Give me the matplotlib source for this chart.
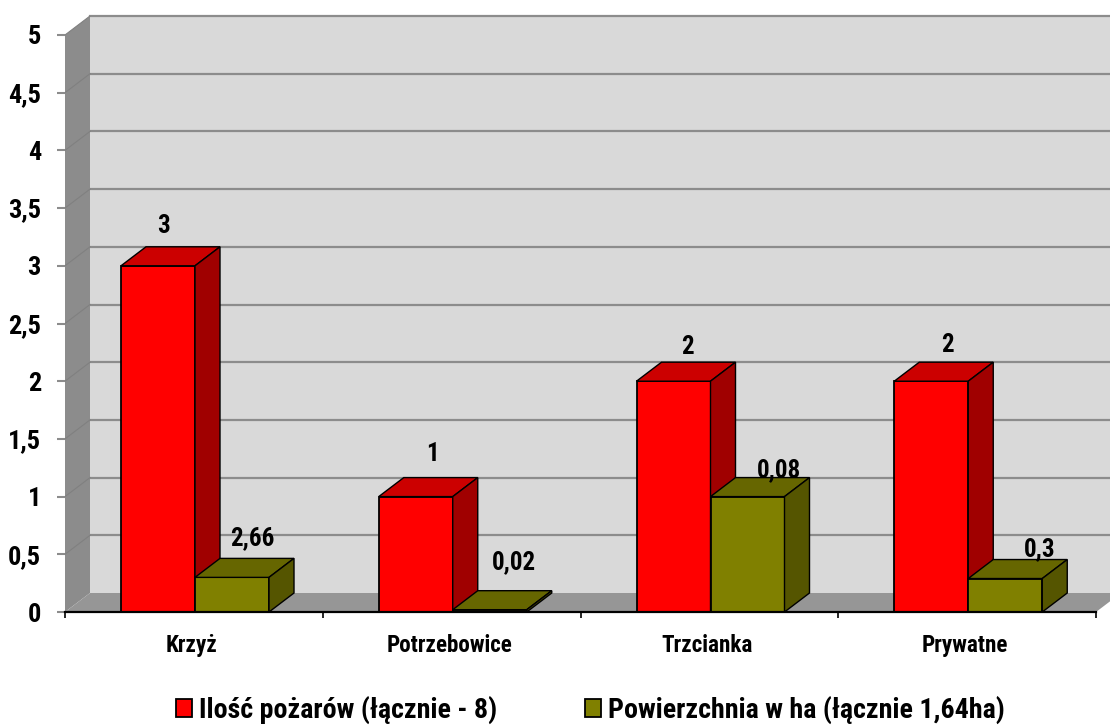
import matplotlib
matplotlib.use("Agg")
import matplotlib.pyplot as plt
from matplotlib.patches import Patch, Polygon

plt.rcParams["font.family"] = ["Roboto Condensed", "Liberation Sans", "DejaVu Sans"]
plt.rcParams["font.weight"] = "bold"

categories = ["Krzyż", "Potrzebowice", "Trzcianka", "Prywatne"]
fires = [3, 1, 2, 2]
area_heights = [0.3, 0.02, 1.0, 0.29]
fires_labels = ["3", "1", "2", "2"]
area_labels = ["2,66", "0,02", "0,08", "0,3"]
y_ticks = [0, 0.5, 1, 1.5, 2, 2.5, 3, 3.5, 4, 4.5, 5]
y_tick_labels = ["0", "0,5", "1", "1,5", "2", "2,5", "3", "3,5", "4", "4,5", "5"]
series_names = ["Ilość pożarów (łącznie - 8)", "Powierzchnia w ha (łącznie 1,64ha)"]

# przesuniecia etykiet w pikselach (dx, dy od srodka gornej krawedzi slupka)
fires_offsets = [(6, 40), (17, 43), (14, 34), (16, 36)]
area_offsets = [(20, 39), (24, 48), (31, 26), (34, 29)]

PX_X = 257.75  # piksele na kategorie
PX_Y = 115.4   # piksele na jednostke
DX = 25 / PX_X
DY = 19 / PX_Y
BAR_W = 74 / PX_X
BAR_START = 56 / PX_X
GRID = "#8c8c8c"


def draw_bar(ax, x, value, front, top, side, z):
    ax.bar(x, value, BAR_W, align="edge", color=front, edgecolor="black", linewidth=1.3, zorder=z, clip_on=False)
    ax.add_patch(Polygon([(x, value), (x + DX, value + DY), (x + BAR_W + DX, value + DY), (x + BAR_W, value)],
                         facecolor=top, edgecolor="black", linewidth=1.0, zorder=z, clip_on=False))
    ax.add_patch(Polygon([(x + BAR_W, 0), (x + BAR_W + DX, DY), (x + BAR_W + DX, value + DY), (x + BAR_W, value)],
                         facecolor=side, edgecolor="black", linewidth=1.0, zorder=z, clip_on=False))


def main():
    fig = plt.figure(figsize=(11.10, 7.27), dpi=100)
    ax = fig.add_axes([65 / 1110, (727 - 612) / 727, 1045 / 1110, 596 / 727])
    xmax = 1045 / PX_X
    ymax = 596 / PX_Y
    ax.set_xlim(0, xmax)
    ax.set_ylim(0, ymax)
    ax.patch.set_visible(False)
    for s in ["top", "right", "left"]:
        ax.spines[s].set_visible(False)
    ax.spines["bottom"].set_bounds(0, len(categories))
    ax.spines["bottom"].set_linewidth(1.6)
    ax.spines["bottom"].set_zorder(20)

    # sciany i podloga
    ax.add_patch(Polygon([(DX, DY), (xmax + 1, DY), (xmax + 1, ymax), (DX, ymax)], facecolor="#d9d9d9", edgecolor="none", zorder=0))
    ax.add_patch(Polygon([(0, 0), (DX, DY), (DX, ymax), (0, 5)], facecolor="#8c8c8c", edgecolor="none", zorder=1))
    ax.add_patch(Polygon([(0, 0), (len(categories), 0), (len(categories) + DX, DY), (DX, DY)], facecolor="#969696", edgecolor="none", zorder=1))

    for t in y_ticks[1:]:
        ax.plot([DX, xmax + 1], [t + DY, t + DY], color=GRID, linewidth=1.6, zorder=2, clip_on=False)
        ax.plot([0, DX], [t, t + DY], color="#808080", linewidth=0.8, zorder=2)

    for i in range(len(categories)):
        x_red = i + BAR_START
        x_olive = x_red + BAR_W
        draw_bar(ax, x_red, fires[i], "#ff0000", "#cc0000", "#a00000", 5)
        draw_bar(ax, x_olive, area_heights[i], "#808000", "#666600", "#555500", 6)
        ax.annotate(fires_labels[i], (x_red + BAR_W / 2, fires[i]), xytext=fires_offsets[i],
                    textcoords="offset pixels", ha="center", va="center", fontsize=18, zorder=10)
        ax.annotate(area_labels[i], (x_olive + BAR_W / 2, area_heights[i]), xytext=area_offsets[i],
                    textcoords="offset pixels", ha="center", va="center", fontsize=18, zorder=10)

    ax.set_yticks(y_ticks, y_tick_labels, fontsize=19)
    ax.tick_params(axis="y", length=5.8, width=1.5, color=GRID, pad=11.5)
    ax.set_xticks(range(len(categories) + 1), [""] * (len(categories) + 1))
    ax.tick_params(axis="x", which="major", length=4.5, width=1.2, color="black")
    ax.set_xticks([i + 0.49 for i in range(len(categories))], categories, minor=True, fontsize=16.7)
    ax.tick_params(axis="x", which="minor", length=0, pad=15.5)

    handles = [Patch(facecolor="#ff0000", edgecolor="black", linewidth=1.3),
               Patch(facecolor="#808000", edgecolor="black", linewidth=1.3)]
    fig.legend(handles, series_names, loc="center", bbox_to_anchor=(590.5 / 1110, 1 - 710 / 727), ncol=2,
               frameon=False, fontsize=20.2, handlelength=0.55, handleheight=0.6,
               handletextpad=0.25, columnspacing=3.15, borderpad=0)

    fig.savefig("out.png", dpi=100)


if __name__ == "__main__":
    main()
